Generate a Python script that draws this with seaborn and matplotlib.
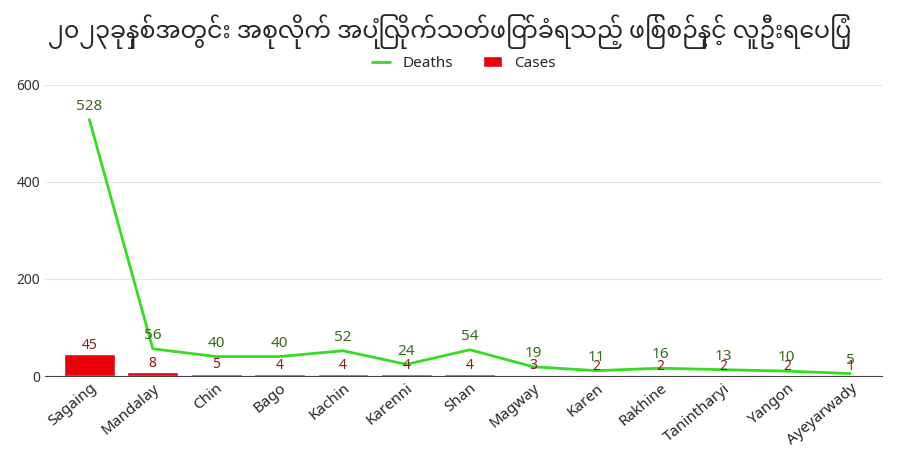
import matplotlib.pyplot as plt
import pandas as pd
import seaborn as sns

regions = ["Sagaing", "Mandalay", "Chin", "Bago", "Kachin", "Karenni", "Shan",
           "Magway", "Karen", "Rakhine", "Tanintharyi", "Yangon", "Ayeyarwady"]
deaths = [528, 56, 40, 40, 52, 24, 54, 19, 11, 16, 13, 10, 5]
cases = [45, 8, 5, 4, 4, 4, 4, 3, 2, 2, 2, 2, 1]
title = "၂၀၂၃ခုနှစ်အတွင်း အစုလိုက် အပြုံလိုက်သတ်ဖြတ်ခံရသည့် ဖြစ်စဉ်နှင့် လူဦးရေပြပုံ"


def main():
    sns.set_style("white")
    plt.rcParams["font.family"] = ["Noto Sans Myanmar", "Padauk", "Myanmar Text",
                                   "DejaVu Sans"]
    df = pd.DataFrame({"region": regions, "deaths": deaths, "cases": cases})

    fig, ax = plt.subplots(figsize=(9, 4.7), dpi=100)
    sns.barplot(data=df, x="region", y="cases", color="#e8000b", width=0.8,
                saturation=1, ax=ax, label="Cases")
    sns.lineplot(x=range(len(regions)), y=df["deaths"], color="#33dd22", lw=2,
                 ax=ax, label="Deaths")

    for i, (d, c) in enumerate(zip(deaths, cases)):
        ax.text(i, d + 12, str(d), ha="center", va="bottom", color="#3a6b1a",
                fontsize=11)
        ax.text(i, c + 3, str(c), ha="center", va="bottom", color="#8b1a1a",
                fontsize=10)

    ax.set_ylim(0, 600)
    ax.set_yticks([0, 200, 400, 600])
    ax.set_xlim(-0.7, len(regions) - 0.5)
    ax.grid(axis="y", color="#e4e4e4", lw=0.8)
    ax.set_axisbelow(True)
    sns.despine(ax=ax, left=True, bottom=False)
    ax.spines["bottom"].set_color("#444444")
    ax.set(xlabel=None, ylabel=None)
    ax.tick_params(axis="y", length=0, labelsize=10, colors="#333333")
    ax.tick_params(axis="x", length=0, labelsize=11)
    plt.setp(ax.get_xticklabels(), rotation=40, ha="right", rotation_mode="anchor")

    handles, labels = ax.get_legend_handles_labels()
    order = [labels.index("Deaths"), labels.index("Cases")]
    ax.legend([handles[i] for i in order], [labels[i] for i in order],
              loc="lower center", bbox_to_anchor=(0.5, 1.0), ncol=2,
              frameon=False, fontsize=11, handlelength=1.2)

    fig.suptitle(title, fontsize=17, fontweight="bold", y=0.97)
    fig.subplots_adjust(left=0.05, right=0.98, top=0.82, bottom=0.2)
    fig.savefig("out.png")


if __name__ == "__main__":
    main()
